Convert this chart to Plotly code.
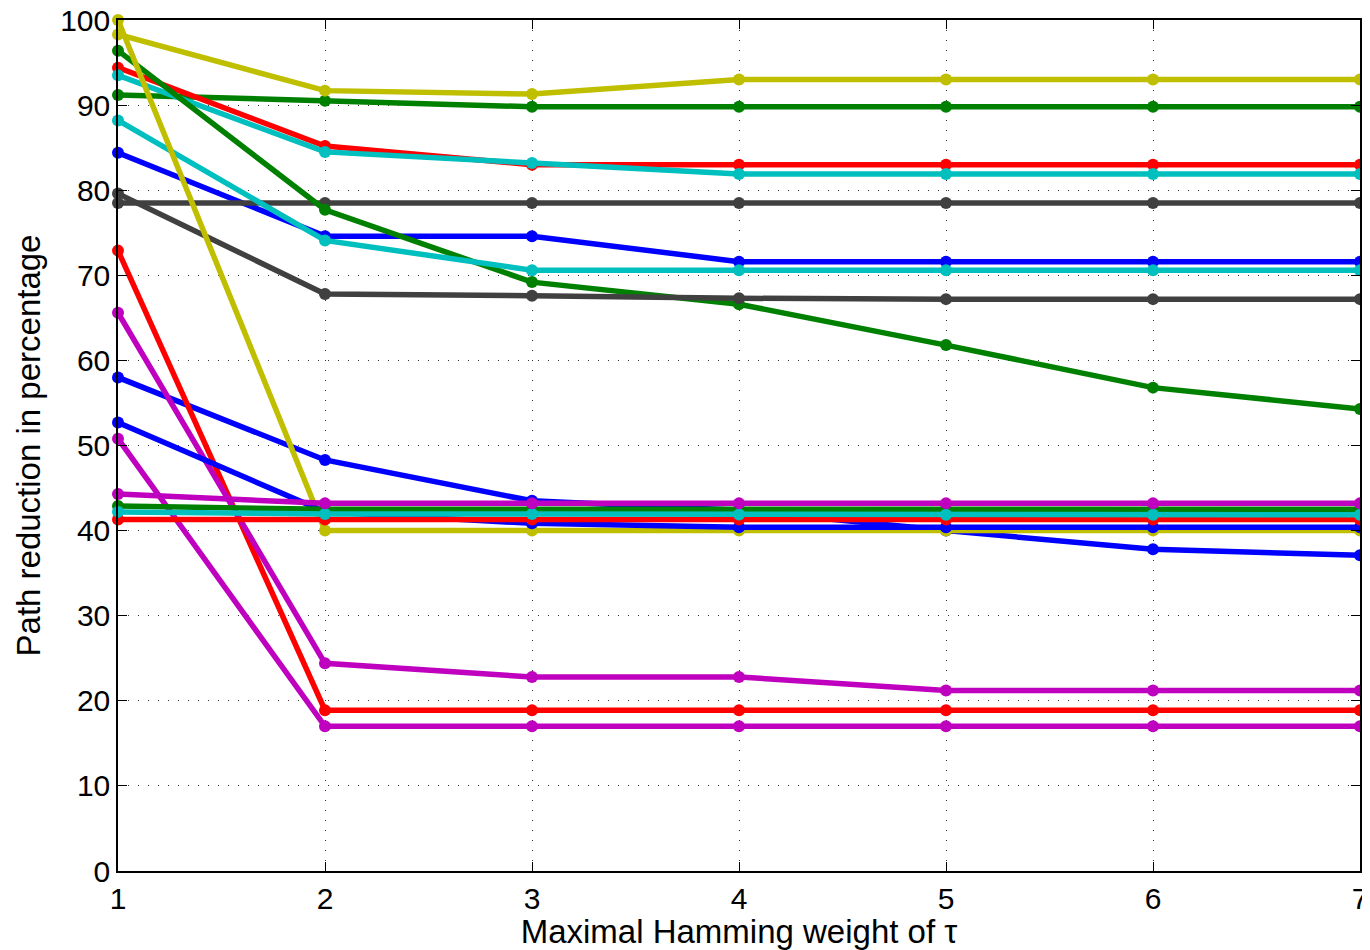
import plotly.graph_objects as go

tau = [1, 2, 3, 4, 5, 6, 7]

# Series values (path reduction in %)
blue_a   = [84.4, 74.6, 74.6, 71.6, 71.6, 71.6, 71.6]
green_a  = [91.2, 90.5, 89.8, 89.8, 89.8, 89.8, 89.8]
red_a    = [94.4, 85.2, 83.0, 83.0, 83.0, 83.0, 83.0]
cyan_a   = [93.5, 84.5, 83.2, 81.9, 81.9, 81.9, 81.9]
yellow_a = [98.3, 91.7, 91.3, 93.0, 93.0, 93.0, 93.0]
gray_a   = [78.5, 78.5, 78.5, 78.5, 78.5, 78.5, 78.5]

blue_b   = [58.0, 48.3, 43.5, 42.4, 40.0, 37.8, 37.1]
green_b  = [96.4, 77.7, 69.2, 66.6, 61.8, 56.8, 54.3]
red_b    = [72.9, 18.9, 18.9, 18.9, 18.9, 18.9, 18.9]
cyan_b   = [88.2, 74.1, 70.6, 70.6, 70.6, 70.6, 70.6]
magenta_b = [65.6, 24.4, 22.8, 22.8, 21.2, 21.2, 21.2]
yellow_b = [100.0, 40.0, 40.0, 40.0, 40.0, 40.0, 40.0]
gray_b   = [79.6, 67.8, 67.6, 67.3, 67.2, 67.2, 67.2]

magenta_c2 = [50.8, 17.0, 17.0, 17.0, 17.0, 17.0, 17.0]
blue_c   = [52.7, 42.2, 40.85, 40.4, 40.4, 40.4, 40.4]
red_c    = [41.3, 41.3, 41.3, 41.3, 41.3, 41.3, 41.3]
green_c  = [42.9, 42.5, 42.5, 42.5, 42.5, 42.5, 42.5]
cyan_c   = [42.2, 41.95, 41.95, 41.9, 41.85, 41.85, 41.85]
magenta_c = [44.3, 43.2, 43.2, 43.2, 43.2, 43.2, 43.2]

x_ticks = [1, 2, 3, 4, 5, 6, 7]
y_ticks = [0, 10, 20, 30, 40, 50, 60, 70, 80, 90, 100]

BLUE = "#0000FF"
GREEN = "#008000"
RED = "#FF0000"
CYAN = "#00BFBF"
MAGENTA = "#BF00BF"
YELLOW = "#BFBF00"
GRAY = "#404040"

series = [
    (blue_a, BLUE), (green_a, GREEN), (red_a, RED), (cyan_a, CYAN),
    (gray_a, GRAY), (yellow_a, YELLOW),
    (blue_b, BLUE), (green_b, GREEN), (red_b, RED), (cyan_b, CYAN),
    (magenta_b, MAGENTA), (gray_b, GRAY), (yellow_b, YELLOW),
    (magenta_c2, MAGENTA),
    (blue_c, BLUE), (red_c, RED), (green_c, GREEN), (cyan_c, CYAN),
    (magenta_c, MAGENTA),
]

fig = go.Figure()
for vals, col in series:
    fig.add_trace(go.Scatter(
        x=tau, y=vals, mode="lines+markers",
        line=dict(color=col, width=5.5),
        marker=dict(color=col, size=12, symbol="circle"),
        showlegend=False, cliponaxis=False,
    ))

FONT = "Liberation Sans, Arial, Helvetica, sans-serif"

# The page body adds an 8px offset; size the figure so the plot area lands
# at x 118..1360 and y 20..871 in the 1370x950 window.
fig.update_layout(
    width=1362, height=942,
    margin=dict(l=110, r=10, t=12, b=79, autoexpand=False),
    paper_bgcolor="white", plot_bgcolor="white",
    font=dict(family=FONT, size=30, color="black"),
    showlegend=False,
)
fig.update_xaxes(
    range=[1, 7], tickvals=x_ticks, automargin=False, ticklabeloverflow="allow",
    showline=True, linecolor="black", linewidth=1.5, mirror="ticks",
    ticks="inside", ticklen=9, tickwidth=1, tickcolor="black",
    showgrid=True, gridcolor="#333333", griddash="1px,9px", gridwidth=1,
    zeroline=False,
    title=dict(text="Maximal Hamming weight of τ", standoff=0, font=dict(size=33)),
    tickfont=dict(size=30),
)
fig.update_yaxes(
    range=[0, 100], tickvals=y_ticks, automargin=False, ticklabeloverflow="allow",
    showline=True, linecolor="black", linewidth=1.5, mirror="ticks",
    ticks="inside", ticklen=9, tickwidth=1, tickcolor="black",
    showgrid=True, gridcolor="#333333", griddash="1px,9px", gridwidth=1,
    zeroline=False,
    title=dict(text="Path reduction in percentage", standoff=10, font=dict(size=33)),
    tickfont=dict(size=30),
)

fig.write_html("out.html")
